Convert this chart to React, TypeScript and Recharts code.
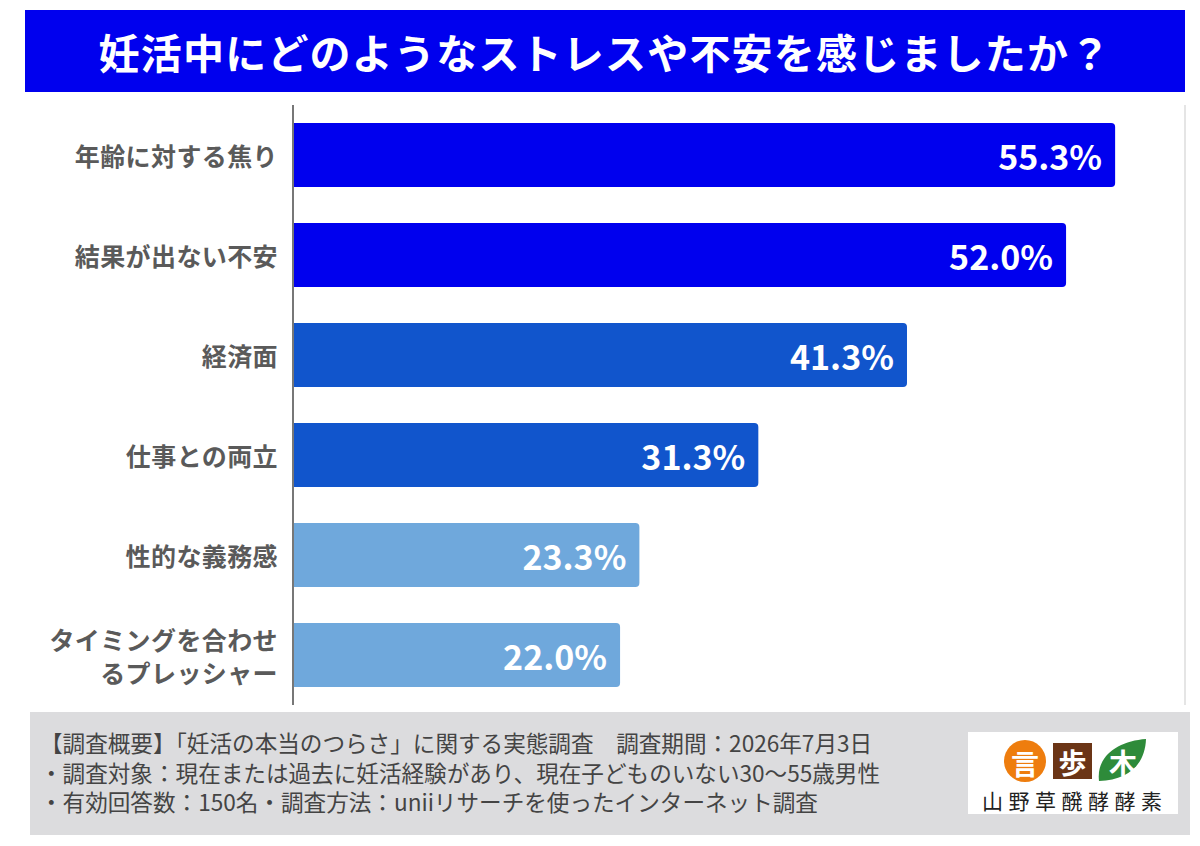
import { Bar, BarChart, CartesianGrid, Cell, LabelList, XAxis, YAxis } from "recharts";

const categories = [
  "年齢に対する焦り",
  "結果が出ない不安",
  "経済面",
  "仕事との両立",
  "性的な義務感",
  "タイミングを合わせ\nるプレッシャー",
];
const percents = [55.3, 52.0, 41.3, 31.3, 23.3, 22.0];
const barColors = ["#0000ee", "#0000ee", "#1155cc", "#1155cc", "#6fa8dc", "#6fa8dc"];
const xTicks = [0, 20, 40];

const title = "妊活中にどのようなストレスや不安を感じましたか？";
const notes = [
  "【調査概要】「妊活の本当のつらさ」に関する実態調査　調査期間：2026年7月3日",
  "・調査対象：現在または過去に妊活経験があり、現在子どものいない30〜55歳男性",
  "・有効回答数：150名・調査方法：uniiリサーチを使ったインターネット調査",
];
const brand = "山野草醗酵酵素";

const data = categories.map((name, i) => ({ name, value: percents[i], color: barColors[i] }));

const FONT = '"Noto Sans CJK JP", "Noto Sans", sans-serif';

function CategoryTick(props: any) {
  const { y, payload } = props;
  const lines: string[] = String(payload.value).split("\n");
  const lineH = 33;
  const start = y - ((lines.length - 1) * lineH) / 2;
  return (
    <text
      x={278}
      y={start}
      textAnchor="end"
      dominantBaseline="central"
      fill="#5a5a5a"
      fontSize={25}
      fontWeight={700}
      letterSpacing={0.4}
      fontFamily={FONT}
    >
      {lines.map((line, i) => (
        <tspan key={i} x={278} y={start + i * lineH}>
          {line}
        </tspan>
      ))}
    </text>
  );
}

function ValueLabel(props: any) {
  const { x, y, width, height, value } = props;
  return (
    <text
      x={x + width - 13}
      y={y + height / 2}
      textAnchor="end"
      dominantBaseline="central"
      fill="#fff"
      fontSize={34}
      fontWeight={700}
      fontFamily={FONT}
    >
      {`${Number(value).toFixed(1)}%`}
    </text>
  );
}

function Logo() {
  return (
    <div
      style={{
        position: "absolute",
        left: 968,
        top: 732,
        width: 210,
        height: 82,
        background: "#fff",
      }}
    >
      <svg width={210} height={82}>
        <circle cx={57} cy={29} r={21} fill="#ee7d0e" />
        <text x={57} y={31} textAnchor="middle" dominantBaseline="central" fill="#fff" fontSize={28} fontWeight={700} fontFamily={FONT}>
          言
        </text>
        <rect x={85} y={11} width={39} height={36} fill="#6b3516" />
        <text x={104.5} y={30} textAnchor="middle" dominantBaseline="central" fill="#fff" fontSize={28} fontWeight={700} fontFamily={FONT}>
          歩
        </text>
        <path d="M131 49 C 128 24, 150 9, 178 7 C 177 33, 160 48, 131 49 Z" fill="#2e8b3a" />
        <text x={155} y={30} textAnchor="middle" dominantBaseline="central" fill="#fff" fontSize={28} fontWeight={700} fontFamily={FONT}>
          木
        </text>
        <text x={14} y={68} dominantBaseline="central" fill="#222" fontSize={21} letterSpacing={5.5} fontFamily={FONT}>
          {brand}
        </text>
      </svg>
    </div>
  );
}

export default function App() {
  return (
    <div style={{ position: "absolute", left: 0, top: 0, width: 1200, height: 846, background: "#fff", fontFamily: FONT }}>
      <BarChart
        width={1200}
        height={846}
        data={data}
        layout="vertical"
        margin={{ top: 105, right: 15, bottom: 141, left: 0 }}
        barSize={64}
      >
        <CartesianGrid horizontal={false} stroke="#dcdcdc" strokeWidth={1.5} />
        <XAxis
          type="number"
          domain={[0, 60]}
          ticks={xTicks}
          height={0}
          axisLine={false}
          tickLine={false}
          tick={false}
        />
        <YAxis
          type="category"
          dataKey="name"
          width={293}
          axisLine={{ stroke: "#777", strokeWidth: 2 }}
          tickLine={false}
          tick={(p: any) => <CategoryTick {...p} />}
          interval={0}
        />
        <Bar dataKey="value" isAnimationActive={false} radius={[0, 4, 4, 0]}>
          {data.map((d, i) => (
            <Cell key={`cell-${i}`} fill={d.color} />
          ))}
          <LabelList dataKey="value" content={(p: any) => <ValueLabel {...p} />} />
        </Bar>
      </BarChart>

      <div
        style={{
          position: "absolute",
          left: 25,
          top: 10,
          width: 1160,
          height: 82,
          background: "#0000ee",
          color: "#fff",
          fontSize: 41,
          fontWeight: 700,
          display: "flex",
          alignItems: "center",
          justifyContent: "center",
          letterSpacing: 1.2,
        }}
      >
        {title}
      </div>

      <div
        style={{
          position: "absolute",
          left: 30,
          top: 712,
          width: 1160,
          height: 123,
          background: "#dcdcde",
        }}
      >
        {notes.map((n, i) => (
          <div
            key={i}
            style={{
              position: "absolute",
              left: 10,
              top: 17 + i * 29.5,
              fontSize: 22.6,
              lineHeight: "28px",
              color: "#444",
              whiteSpace: "nowrap",
            }}
          >
            {n}
          </div>
        ))}
      </div>
      <Logo />
    </div>
  );
}
